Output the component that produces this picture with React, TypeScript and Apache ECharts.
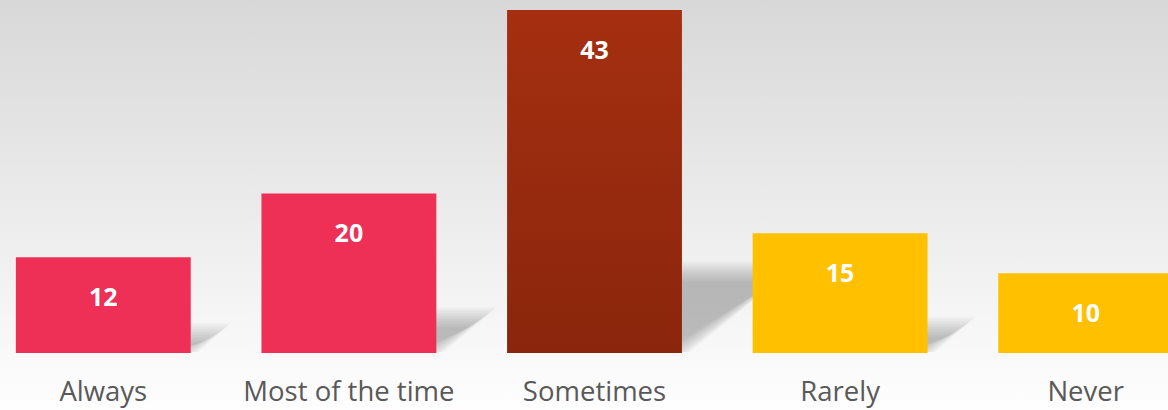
import React, { useEffect, useRef } from "react";
import * as echarts from "echarts";

const categories = ["Always", "Most of the time", "Sometimes", "Rarely", "Never"];
const values = [12, 20, 43, 15, 10];
const barColors = ["#EE3056", "#EE3056", "sometimes", "#FFC000", "#FFC000"];

export default function App() {
  const ref = useRef<HTMLDivElement>(null);

  useEffect(() => {
    if (!ref.current) return;
    const chart = echarts.init(ref.current, null, { renderer: "svg" });
    const sometimesGrad = new echarts.graphic.LinearGradient(0, 0, 0, 1, [
      { offset: 0, color: "#A52F10" },
      { offset: 1, color: "#8A260C" },
    ]);
    const colorFor = (i: number) => (barColors[i] === "sometimes" ? sometimesGrad : barColors[i]);

    chart.setOption({
      animation: false,
      backgroundColor: new echarts.graphic.LinearGradient(0, 0, 0, 1, [
        { offset: 0, color: "#D8D8D8" },
        { offset: 1, color: "#FEFEFE" },
      ]),
      grid: { left: 0.5, width: 1228, top: 10, bottom: 57, containLabel: false },
      xAxis: {
        type: "category",
        data: categories,
        axisLine: { show: false },
        axisTick: { show: false },
        axisLabel: {
          color: "#595959",
          fontFamily: "Open Sans",
          fontSize: 27.5,
          lineHeight: 27,
          margin: 24,
          interval: 0,
        },
      },
      yAxis: { type: "value", min: 0, max: 43, show: false, splitLine: { show: false } },
      series: [
        {
          type: "custom",
          z: 1,
          data: values.map((v, i) => [i, v]),
          renderItem: (params: any, api: any) => {
            const idx = api.value(0);
            const v = api.value(1);
            const base = api.coord([idx, 0]);
            const top = api.coord([idx, v]);
            const w = api.size([1, 0])[0] * 0.712;
            const x0 = base[0] - w / 2;
            const x1 = base[0] + w / 2;
            const y0 = base[1];
            const h = y0 - top[1];
            const dx = 0.32 * h;
            const dy = 0.25 * h;
            const children: any[] = [];
            for (let k = -3; k <= 7; k++) {
              const inset = k * 2;
              const yb = y0 - 1 - Math.max(inset, 0) * 0.3;
              children.push({
                type: "polygon",
                shape: {
                  points: [
                    [x0 + 10 + inset, yb],
                    [x1 + 2 - inset, yb],
                    [x1 + 2 + dx - inset * 1.3, y0 - dy + inset],
                    [x0 + 10 + dx + inset, y0 - dy + inset],
                  ],
                },
                style: { fill: "rgba(0,0,0,0.024)" },
              });
            }
            return { type: "group", children };
          },
        },
        {
          type: "bar",
          z: 2,
          barWidth: "71.2%",
          data: values.map((v, i) => ({ value: v, itemStyle: { color: colorFor(i) } })),
          label: {
            show: true,
            position: "insideTop",
            distance: 26.5,
            color: "#FFFFFF",
            fontFamily: "Open Sans",
            fontWeight: "bold",
            fontSize: 25,
            lineHeight: 24,
          },
        },
      ],
    });
    return () => chart.dispose();
  }, []);

  return (
    <div style={{ position: "fixed", left: 0, top: 0, width: 1168, height: 410, overflow: "hidden" }}>
      <div ref={ref} style={{ position: "absolute", left: -20, top: 0, width: 1229, height: 410 }} />
    </div>
  );
}
